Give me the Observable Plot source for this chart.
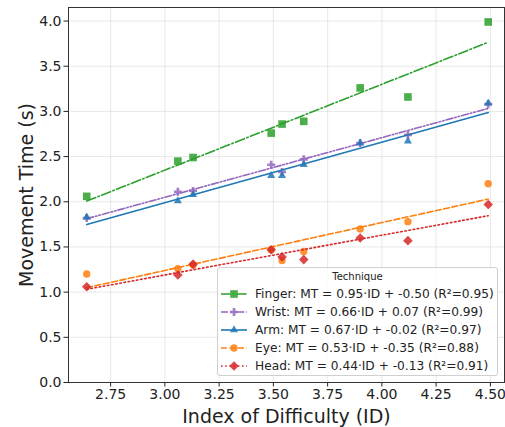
<!DOCTYPE html>
<html>
<head>
<meta charset="utf-8">
<script src="https://cdn.jsdelivr.net/npm/d3@7"></script>
<script src="https://cdn.jsdelivr.net/npm/@observablehq/plot@0.6"></script>
<style>
  body { margin: 0; background: white; font-family: "DejaVu Sans", sans-serif; }
  #wrap { position: relative; width: 505px; height: 427px; }
  #legend { position: absolute; left: 217px; top: 267px; width: 279px; height: 107px;
    border: 1px solid #d0d0d0; border-radius: 3px; background: rgba(255,255,255,0.85); }
  #legend .title { position: absolute; left: 0; width: 100%; top: 2px; text-align: center; font-size: 10px; line-height: 14px; color: #222; }
  #legend .row { position: absolute; left: 0; height: 18px; line-height: 18px; white-space: nowrap; font-size: 12.2px; color: #222; }
  #legend .row svg { position: absolute; left: 2px; top: 3px; }
  #legend .row span { position: absolute; left: 37px; top: 0; }
</style>
</head>
<body>
<div id="wrap"></div>
<script>
// ---- data ----
const ids = [2.64, 3.06, 3.13, 3.49, 3.54, 3.64, 3.90, 4.12, 4.49];
const techniques = ["Finger", "Wrist", "Arm", "Eye", "Head"];
const finger = [2.06, 2.45, 2.49, 2.76, 2.86, 2.89, 3.26, 3.16, 3.99];
const wrist  = [1.82, 2.11, 2.12, 2.41, 2.33, 2.47, 2.65, 2.74, 3.08];
const arm    = [1.83, 2.01, 2.08, 2.29, 2.29, 2.41, 2.65, 2.67, 3.09];
const eye    = [1.20, 1.26, 1.30, 1.47, 1.35, 1.45, 1.70, 1.78, 2.20];
const head   = [1.06, 1.19, 1.31, 1.47, 1.39, 1.36, 1.60, 1.57, 1.97];
const slopes = [0.95, 0.66, 0.67, 0.53, 0.44];
const intercepts = [-0.50, 0.07, -0.02, -0.35, -0.13];
const r2 = [0.95, 0.99, 0.97, 0.88, 0.91];
const xTicks = [2.75, 3.00, 3.25, 3.50, 3.75, 4.00, 4.25, 4.50];
const yTicks = [0.0, 0.5, 1.0, 1.5, 2.0, 2.5, 3.0, 3.5, 4.0];
const xLabel = "Index of Difficulty (ID)";
const yLabel = "Movement Time (s)";
const legendTitle = "Technique";

// ---- styles ----
const seriesValues = [finger, wrist, arm, eye, head];
const colors = ["#2ca02c", "#9467bd", "#1f77b4", "#ff7f0e", "#d62728"];
const filledPlus = {
  draw(ctx, size) {
    const w = Math.sqrt(size) * 1.05, h = w / 2, t = w / 6;
    ctx.moveTo(-t, -h); ctx.lineTo(t, -h); ctx.lineTo(t, -t); ctx.lineTo(h, -t);
    ctx.lineTo(h, t); ctx.lineTo(t, t); ctx.lineTo(t, h); ctx.lineTo(-t, h);
    ctx.lineTo(-t, t); ctx.lineTo(-h, t); ctx.lineTo(-h, -t); ctx.lineTo(-t, -t); ctx.closePath();
  }
};
const symbols = [d3.symbolSquare, filledPlus, d3.symbolTriangle, d3.symbolCircle, d3.symbolDiamond2];
const radii = [4.3, 4.3, 3.0, 3.7, 4.3];
const dashes = ["9.6,2.4,1.6,2.4", "7,2,1.6,2,1.6,2", null, "5.9,2.6", "1.6,2.6"];

const xExt = d3.extent(ids);
const marks = [
  Plot.gridX(xTicks, {stroke: "#b0b0b0", strokeOpacity: 0.35, strokeWidth: 0.8}),
  Plot.gridY(yTicks, {stroke: "#b0b0b0", strokeOpacity: 0.35, strokeWidth: 0.8}),
  Plot.axisX({ticks: xTicks, tickFormat: d3.format(".2f"), tickSize: 4.5, tickPadding: 2.5, label: null, fontSize: 14}),
  Plot.axisY({ticks: yTicks, tickFormat: d3.format(".1f"), tickSize: 4.5, tickPadding: 2.5, label: null, fontSize: 14})
];
techniques.forEach((name, i) => {
  const pts = ids.map((x, j) => ({x, y: seriesValues[i][j]}));
  const fit = xExt.map(x => ({x, y: slopes[i] * x + intercepts[i]}));
  marks.push(Plot.dot(pts, {x: "x", y: "y", symbol: () => symbols[i], r: radii[i], fill: colors[i], fillOpacity: 0.85, stroke: "none"}));
  marks.push(Plot.line(fit, {x: "x", y: "y", stroke: colors[i], strokeWidth: 1.6, strokeDasharray: dashes[i]}));
});
marks.push(Plot.frame({stroke: "#333", strokeWidth: 1}));
marks.push(Plot.text([xLabel], {frameAnchor: "bottom", dy: 34, fontSize: 19, lineAnchor: "middle", textAnchor: "middle", fill: "#222"}));
marks.push(Plot.text([yLabel], {frameAnchor: "left", dx: -42, rotate: -90, fontSize: 19, lineAnchor: "middle", textAnchor: "middle", fill: "#222"}));

const chart = Plot.plot({
  width: 505, height: 427,
  marginLeft: 68, marginRight: 1, marginTop: 7, marginBottom: 45,
  x: {domain: [2.556, 4.565]},
  y: {domain: [0, 4.15]},
  symbol: {type: "identity"},
  style: {fontFamily: "DejaVu Sans", fontSize: "14px", color: "#222", background: "white"},
  marks
});
const wrap = document.getElementById("wrap");
wrap.appendChild(chart);

// ---- legend ----
const legend = document.createElement("div");
legend.id = "legend";
const t = document.createElement("div");
t.className = "title"; t.textContent = legendTitle;
legend.appendChild(t);
techniques.forEach((name, i) => {
  const row = document.createElement("div");
  row.className = "row";
  row.style.top = (17 + i * 18) + "px";
  const svg = d3.create("svg").attr("width", 28).attr("height", 12);
  svg.append("line").attr("x1", 1).attr("x2", 27).attr("y1", 6).attr("y2", 6)
    .attr("stroke", colors[i]).attr("stroke-width", 1.6)
    .attr("stroke-dasharray", dashes[i]);
  svg.append("path").attr("transform", "translate(14,6)")
    .attr("d", d3.symbol(symbols[i], Math.PI * radii[i] * radii[i])())
    .attr("fill", colors[i]).attr("fill-opacity", 0.85);
  row.appendChild(svg.node());
  const s = document.createElement("span");
  s.textContent = `${name}: MT = ${slopes[i].toFixed(2)}·ID + ${intercepts[i].toFixed(2)} (R²=${r2[i].toFixed(2)})`;
  row.appendChild(s);
  legend.appendChild(row);
});
wrap.appendChild(legend);
</script>
</body>
</html>
